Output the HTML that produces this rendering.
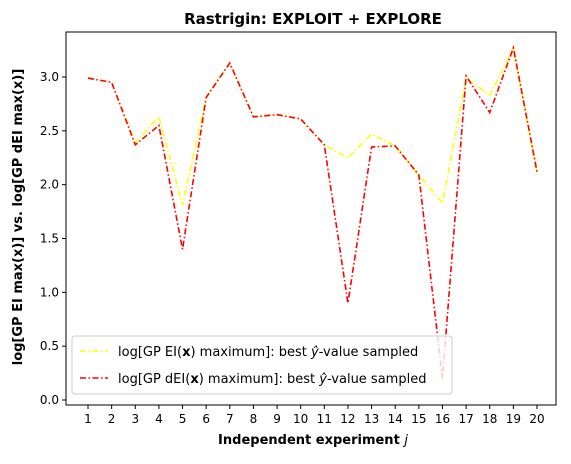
<!DOCTYPE html>
<html><head><meta charset="utf-8"><style>
body{margin:0;background:#fff;}
svg text{font-family:"DejaVu Sans","Liberation Sans",sans-serif;}
</style></head><body>
<svg id="chart" width="571" height="459">
<rect width="571" height="459" fill="#fff"/>
<text x="313" y="24" text-anchor="middle" font-size="15" font-weight="bold">Rastrigin: EXPLOIT + EXPLORE</text>
<g id="yticks"></g>
<g id="xticks"></g>
<g id="series"></g>
<rect x="66" y="32" width="490" height="373" fill="none" stroke="#000" stroke-width="1"/>
<text x="313" y="444" text-anchor="middle" font-size="13" font-weight="bold">Independent experiment <tspan font-style="italic" font-weight="normal">j</tspan></text>
<text transform="translate(22,217) rotate(-90)" text-anchor="middle" font-size="13" font-weight="bold">log[GP EI max(x)] vs. log[GP dEI max(x)]</text>
<g>
<rect x="72" y="336" width="380" height="58" rx="3" fill="#fff" fill-opacity="0.8" stroke="#ccc"/>
<line x1="80" y1="351" x2="108" y2="351" stroke="#ffff00" stroke-width="1.6" stroke-dasharray="6,2.5,1.5,2.5"/>
<text x="118" y="356" font-size="13">log[GP EI(<tspan font-weight="bold">x</tspan>) maximum]: best <tspan font-style="italic">ŷ</tspan>-value sampled</text>
<line x1="80" y1="378" x2="108" y2="378" stroke="#ff0000" stroke-width="1.6" stroke-dasharray="6,2.5,1.5,2.5"/>
<text x="118" y="383" font-size="13">log[GP dEI(<tspan font-weight="bold">x</tspan>) maximum]: best <tspan font-style="italic">ŷ</tspan>-value sampled</text>
</g>
</svg>
<script>
const experiments=[1,2,3,4,5,6,7,8,9,10,11,12,13,14,15,16,17,18,19,20];
const eiValues=[2.99,2.95,2.39,2.63,1.81,2.81,3.13,2.63,2.65,2.61,2.37,2.25,2.47,2.36,2.09,1.83,2.99,2.83,3.27,2.12];
const deiValues=[2.99,2.95,2.37,2.55,1.40,2.81,3.13,2.63,2.65,2.61,2.37,0.90,2.35,2.36,2.09,0.20,3.01,2.67,3.27,2.12];
const yTickLabels=["0.0","0.5","1.0","1.5","2.0","2.5","3.0"];
const ns="http://www.w3.org/2000/svg";
function xs(j){return 88+(j-1)*(537-88)/19;}
function ys(v){return 400-v*(400-77)/3;}
const yg=document.getElementById('yticks'),xg=document.getElementById('xticks'),sg=document.getElementById('series');
yTickLabels.forEach(l=>{const v=parseFloat(l),y=ys(v);
const t=document.createElementNS(ns,'line');t.setAttribute('x1',62);t.setAttribute('x2',66);t.setAttribute('y1',y);t.setAttribute('y2',y);t.setAttribute('stroke','#000');


yg.appendChild(t);
const tx=document.createElementNS(ns,'text');tx.setAttribute('x',59);tx.setAttribute('y',y+4);tx.setAttribute('text-anchor','end');tx.setAttribute('font-size','12');tx.textContent=l;


yg.appendChild(tx);});
experiments.forEach(j=>{const x=xs(j);
const t=document.createElementNS(ns,'line');t.setAttribute('x1',x);t.setAttribute('x2',x);t.setAttribute('y1',405);t.setAttribute('y2',409);t.setAttribute('stroke','#000');


xg.appendChild(t);
const tx=document.createElementNS(ns,'text');tx.setAttribute('x',x);tx.setAttribute('y',423);tx.setAttribute('text-anchor','middle');tx.setAttribute('font-size','12');tx.textContent=j;


xg.appendChild(tx);});
function line(vals,color,name){const p=document.createElementNS(ns,'polyline');
p.setAttribute('points',vals.map((v,i)=>xs(experiments[i])+','+ys(v)).join(' '));
p.setAttribute('fill','none');p.setAttribute('stroke',color);p.setAttribute('stroke-width','1.6');p.setAttribute('stroke-dasharray','6,2.5,1.5,2.5');


sg.appendChild(p);}
line(eiValues,'#ffff00','ei-series-line');
line(deiValues,'#ff0000','dei-series-line');
</script>
</body></html>
